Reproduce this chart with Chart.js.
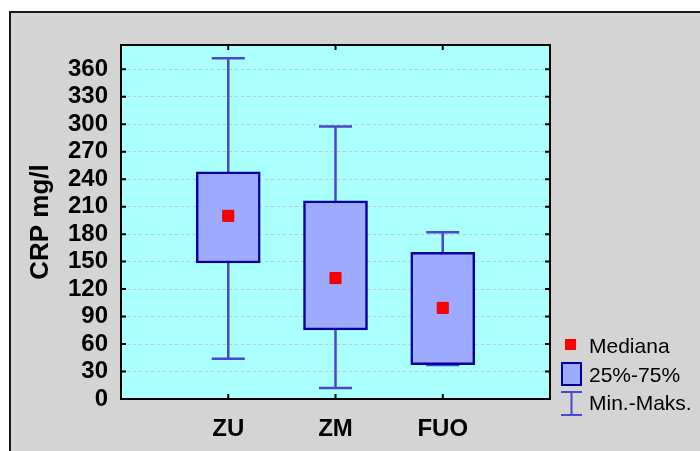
<!DOCTYPE html>
<html>
<head>
<meta charset="utf-8">
<script src="https://cdn.jsdelivr.net/npm/chart.js@4/dist/chart.umd.min.js"></script>
<style>
  html, body { margin: 0; padding: 0; background: #ffffff; }
  canvas { display: block; }
</style>
</head>
<body>
<canvas id="chart" width="700" height="451"></canvas>
<script>
// CRP (mg/l) per group: min, quartiles, median, max
const categories   = ['ZU', 'ZM', 'FUO'];
const minValues    = [44, 12, 37];
const q1Values     = [148.5, 75.5, 37.5];
const medianValues = [200, 132, 99.5];
const q3Values     = [248, 216.5, 160];
const maxValues    = [372, 297.5, 182];

const yTickValues  = [0, 30, 60, 90, 120, 150, 180, 210, 240, 270, 300, 330, 360];
const yAxisTitle   = 'CRP mg/l';
const legendLabels = ['Mediana', '25%-75%', 'Min.-Maks.'];

const FONT = '"Liberation Sans", Arial, Helvetica, sans-serif';
const BOX_FILL = '#9eaaff';
const BOX_EDGE = '#00009c';
const WHISKER = '#4848d0';
const MEDIAN = '#ff0000';

// Panel background, plot background
const backgroundPlugin = {
  id: 'panelBackground',
  beforeDraw(chart) {
    const ctx = chart.ctx;
    const a = chart.chartArea;
    ctx.save();
    ctx.fillStyle = '#ffffff';
    ctx.fillRect(0, 0, chart.width, chart.height);
    ctx.fillStyle = '#d4d4d4';
    ctx.fillRect(9, 11, chart.width - 9, chart.height - 11);
    ctx.strokeStyle = '#1a1a1a';
    ctx.lineWidth = 2;
    ctx.beginPath();
    ctx.moveTo(10, chart.height);
    ctx.lineTo(10, 12);
    ctx.lineTo(chart.width, 12);
    ctx.stroke();
    ctx.fillStyle = '#aaffff';
    ctx.fillRect(a.left, a.top, a.right - a.left, a.bottom - a.top);
    ctx.restore();
  }
};

// Min-max whiskers, drawn behind the boxes
const whiskerPlugin = {
  id: 'whiskers',
  beforeDatasetsDraw(chart) {
    const ctx = chart.ctx;
    const xs = chart.scales.x, ys = chart.scales.y;
    const capHalf = 16.5;
    ctx.save();
    ctx.strokeStyle = WHISKER;
    ctx.lineWidth = 2.5;
    categories.forEach((c, i) => {
      const x = xs.getPixelForValue(i + 1);
      const yMin = ys.getPixelForValue(minValues[i]);
      const yMax = ys.getPixelForValue(maxValues[i]);
      ctx.beginPath();
      ctx.moveTo(x, yMin); ctx.lineTo(x, yMax);
      ctx.moveTo(x - capHalf, yMin); ctx.lineTo(x + capHalf, yMin);
      ctx.moveTo(x - capHalf, yMax); ctx.lineTo(x + capHalf, yMax);
      ctx.stroke();
    });
    ctx.restore();
  }
};

// Plot frame with inward ticks, axis title and legend
const framePlugin = {
  id: 'frameAndLegend',
  afterDatasetsDraw(chart) {
    const ctx = chart.ctx;
    const a = chart.chartArea;
    const xs = chart.scales.x, ys = chart.scales.y;
    const tick = 5;
    ctx.save();
    ctx.strokeStyle = '#000000';
    ctx.lineWidth = 2;
    ctx.strokeRect(a.left, a.top, a.right - a.left, a.bottom - a.top);
    ctx.beginPath();
    yTickValues.forEach(v => {
      const y = ys.getPixelForValue(v);
      ctx.moveTo(a.left, y); ctx.lineTo(a.left + tick, y);
      ctx.moveTo(a.right, y); ctx.lineTo(a.right - tick, y);
    });
    categories.forEach((c, i) => {
      const x = xs.getPixelForValue(i + 1);
      ctx.moveTo(x, a.top); ctx.lineTo(x, a.top + tick);
      ctx.moveTo(x, a.bottom); ctx.lineTo(x, a.bottom - tick);
    });
    ctx.stroke();

    // y-axis title
    ctx.fillStyle = '#000000';
    ctx.font = 'bold 26px ' + FONT;
    ctx.textAlign = 'center';
    ctx.textBaseline = 'alphabetic';
    ctx.translate(48, (a.top + a.bottom) / 2);
    ctx.rotate(-Math.PI / 2);
    ctx.fillText(yAxisTitle, 0, 0);
    ctx.restore();

    // legend
    ctx.save();
    const lx = 561, tx = 589;
    ctx.font = '21px ' + FONT;
    ctx.fillStyle = '#000000';
    ctx.textAlign = 'left';
    ctx.textBaseline = 'middle';
    // median marker
    ctx.fillStyle = MEDIAN;
    ctx.fillRect(565, 339, 11, 11);
    ctx.fillStyle = '#000000';
    ctx.fillText(legendLabels[0], tx, 347);
    // box
    ctx.fillStyle = BOX_FILL;
    ctx.fillRect(lx + 1, 363, 19, 22);
    ctx.strokeStyle = BOX_EDGE;
    ctx.lineWidth = 2;
    ctx.strokeRect(lx + 1, 363, 19, 22);
    ctx.fillStyle = '#000000';
    ctx.fillText(legendLabels[1], tx, 376);
    // whisker
    ctx.strokeStyle = WHISKER;
    ctx.lineWidth = 2;
    ctx.beginPath();
    ctx.moveTo(lx, 392); ctx.lineTo(lx + 21, 392);
    ctx.moveTo(lx, 415); ctx.lineTo(lx + 21, 415);
    ctx.moveTo(lx + 10.5, 392); ctx.lineTo(lx + 10.5, 415);
    ctx.stroke();
    ctx.fillText(legendLabels[2], tx, 404);
    ctx.restore();
  }
};

const boxData = categories.map((c, i) => ({ x: i + 1, y: [q1Values[i], q3Values[i]] }));
const medianData = categories.map((c, i) => ({ x: i + 1, y: medianValues[i] }));

new Chart(document.getElementById('chart'), {
  type: 'bar',
  data: {
    datasets: [
      {
        type: 'scatter',
        label: legendLabels[0],
        data: medianData,
        pointStyle: 'rect',
        pointRadius: 7.8,
        pointHoverRadius: 7.8,
        backgroundColor: MEDIAN,
        borderColor: '#e00000',
        borderWidth: 1,
        order: 0
      },
      {
        type: 'bar',
        label: legendLabels[1],
        data: boxData,
        backgroundColor: BOX_FILL,
        borderColor: BOX_EDGE,
        borderWidth: 2.5,
        borderSkipped: false,
        barThickness: 64,
        order: 1
      }
    ]
  },
  options: {
    responsive: false,
    animation: false,
    devicePixelRatio: 1,
    layout: { padding: { left: 0, top: 45, right: 150, bottom: 7 } },
    plugins: { legend: { display: false }, tooltip: { enabled: false } },
    scales: {
      x: {
        type: 'linear',
        min: 0,
        max: 4,
        offset: false,
        grid: { display: false },
        border: { display: false },
        afterBuildTicks(scale) {
          scale.ticks = categories.map((c, i) => ({ value: i + 1 }));
        },
        afterFit(scale) { scale.height = 45; },
        ticks: {
          autoSkip: false,
          maxRotation: 0,
          padding: 8,
          color: '#000000',
          font: { family: FONT, size: 24, weight: 'bold' },
          callback: v => categories[v - 1]
        }
      },
      y: {
        type: 'linear',
        min: 0,
        max: 386.5,
        afterBuildTicks(scale) {
          scale.ticks = yTickValues.map(v => ({ value: v }));
        },
        afterFit(scale) { scale.width = 121; },
        grid: { color: '#c4c4c4', lineWidth: 1, drawTicks: false },
        border: { display: false, dash: [3, 3] },
        ticks: {
          autoSkip: false,
          padding: 13,
          color: '#000000',
          font: { family: FONT, size: 24, weight: 'bold' }
        }
      }
    }
  },
  plugins: [backgroundPlugin, whiskerPlugin, framePlugin]
});
</script>
</body>
</html>
